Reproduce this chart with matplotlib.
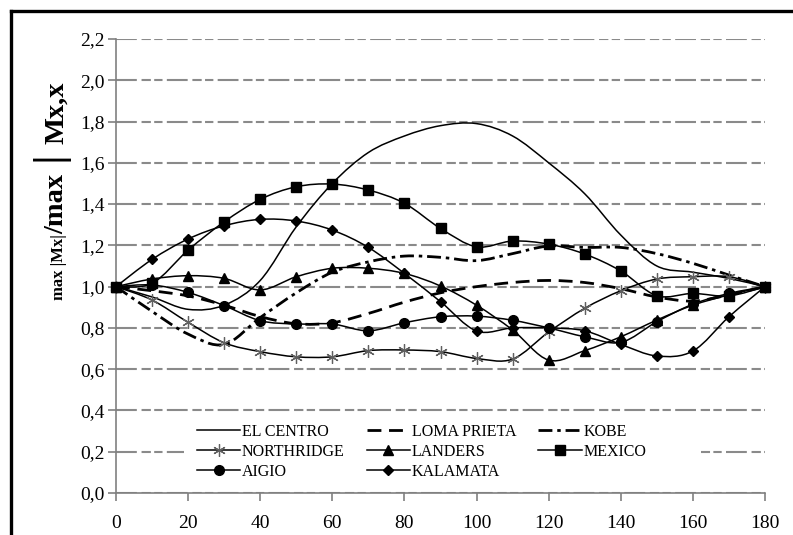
import numpy as np
import matplotlib
matplotlib.use('Agg')
import matplotlib.pyplot as plt
from matplotlib.path import Path
from matplotlib.patches import PathPatch, Rectangle
from matplotlib.lines import Line2D

plt.rcParams['font.family'] = ['Liberation Serif', 'DejaVu Serif']
plt.rcParams['lines.scale_dashes'] = False

# angle (deg)
angle = [0, 10, 20, 30, 40, 50, 60, 70, 80, 90, 100, 110, 120, 130, 140, 150, 160, 170, 180]

el_centro = [1.0, 0.95, 0.89, 0.91, 1.03, 1.29, 1.50, 1.65, 1.73, 1.78, 1.79, 1.73, 1.60, 1.45,
             1.25, 1.10, 1.07, 1.04, 1.0]
loma_prieta = [1.0, 0.98, 0.955, 0.91, 0.855, 0.82, 0.825, 0.87, 0.925, 0.97, 1.0, 1.02, 1.03,
               1.02, 0.99, 0.95, 0.93, 0.96, 1.0]
kobe = [1.0, 0.88, 0.77, 0.72, 0.85, 0.97, 1.07, 1.12, 1.148, 1.142, 1.126, 1.16, 1.197, 1.19,
        1.19, 1.16, 1.113, 1.056, 1.0]
northridge = [1.0, 0.935, 0.827, 0.728, 0.685, 0.66, 0.66, 0.69, 0.693, 0.685, 0.652, 0.649,
              0.78, 0.895, 0.98, 1.037, 1.048, 1.048, 1.0]
landers = [1.0, 1.037, 1.053, 1.04, 0.984, 1.048, 1.089, 1.089, 1.064, 1.003, 0.91, 0.79, 0.644,
           0.69, 0.757, 0.838, 0.91, 0.96, 1.0]
mexico = [1.0, 1.016, 1.177, 1.314, 1.423, 1.484, 1.497, 1.468, 1.404, 1.282, 1.193, 1.221, 1.206,
          1.158, 1.076, 0.956, 0.967, 0.955, 1.0]
aigio = [1.0, 1.008, 0.972, 0.908, 0.835, 0.819, 0.819, 0.786, 0.825, 0.854, 0.857, 0.837, 0.80,
         0.757, 0.73, 0.83, 0.915, 0.967, 1.0]
kalamata = [1.0, 1.132, 1.231, 1.295, 1.326, 1.318, 1.274, 1.19, 1.064, 0.927, 0.785, 0.80, 0.80,
            0.786, 0.72, 0.664, 0.688, 0.854, 1.0]

names = ['EL CENTRO', 'LOMA PRIETA', 'KOBE', 'NORTHRIDGE', 'LANDERS', 'MEXICO', 'AIGIO', 'KALAMATA']
series = [el_centro, loma_prieta, kobe, northridge, landers, mexico, aigio, kalamata]

yticks = [0.0, 0.2, 0.4, 0.6, 0.8, 1.0, 1.2, 1.4, 1.6, 1.8, 2.0, 2.2]
xticks = [0, 20, 40, 60, 80, 100, 120, 140, 160, 180]

# styles: (linestyle, linewidth, marker, markersize)
styles = [
    ('-', 1.1, None, 0),
    ((0, (10, 5.5)), 2.0, None, 0),
    ((0, (10, 3.5, 2.5, 3.5)), 2.0, None, 0),
    ('-', 1.1, (6, 2, 0), 9),
    ('-', 1.1, '^', 7),
    ('-', 1.1, 's', 7),
    ('-', 1.1, 'o', 7),
    ('-', 1.1, 'D', 5.5),
]


def smooth_path(x, y):
    # excel-like smoothed line: catmull-rom as cubic bezier
    p = np.column_stack([x, y]).astype(float)
    n = len(p)
    verts = [p[0]]
    codes = [Path.MOVETO]
    for i in range(n - 1):
        p0 = p[max(i - 1, 0)]
        p1 = p[i]
        p2 = p[i + 1]
        p3 = p[min(i + 2, n - 1)]
        verts += [p1 + (p2 - p0) / 6, p2 - (p3 - p1) / 6, p2]
        codes += [Path.CURVE4] * 3
    return Path(verts, codes)


fig = plt.figure(figsize=(7.93, 5.35), dpi=100)
ax = fig.add_axes([116 / 793, 1 - 493 / 535, 649 / 793, 454 / 535])

handles = []
for name, vals, (ls, lw, mk, ms) in zip(names, series, styles):
    ax.add_patch(PathPatch(smooth_path(angle, vals), fill=False, ec='black', lw=lw, ls=ls,
                           zorder=3, capstyle='butt'))
    if mk is not None:
        if mk == (6, 2, 0):
            ax.plot(angle, vals, ls='none', marker=mk, ms=ms, mec='#606060', mew=0.9,
                    zorder=4, clip_on=False)
            h = Line2D([], [], color='black', lw=lw, marker=mk, ms=ms, mec='#606060', mew=0.9)
        else:
            ax.plot(angle, vals, ls='none', marker=mk, ms=ms, color='black', zorder=4,
                    clip_on=False)
            h = Line2D([], [], color='black', lw=lw, marker=mk, ms=ms)
    else:
        h = Line2D([], [], color='black', lw=lw, ls=ls)
    handles.append(h)

ax.set_xlim(0, 180)
ax.set_ylim(0, 2.2)
ax.set_xticks(xticks)
ax.set_yticks(yticks)
ax.set_yticklabels([f'{v:.1f}'.replace('.', ',') for v in yticks])
ax.tick_params(axis='both', labelsize=14, color='#808080', width=1.2, direction='out')
ax.tick_params(axis='x', length=6, pad=10)
ax.tick_params(axis='y', length=6, pad=2)

ax.set_axisbelow(True)
ax.yaxis.grid(True, color='#8a8a8a', lw=1.5, ls=(0, (15, 3.4, 6.7, 2.4, 6, 3.1)))
for s in ['top', 'right']:
    ax.spines[s].set_visible(False)
for s in ['left', 'bottom']:
    ax.spines[s].set_color('#808080')
    ax.spines[s].set_linewidth(1.2)

# white box behind the legend
ax.add_patch(Rectangle(((184 - 116) / 649, (493 - 486) / 454), (701 - 184) / 649, 66 / 454,
                       transform=ax.transAxes, fc='white', ec='none', zorder=1.5))
# legend fills column by column, reorder so rows read like the original
order = [0, 3, 6, 1, 4, 7, 2, 5]
leg = ax.legend([handles[i] for i in order], [names[i] for i in order], ncol=3, frameon=False,
                fontsize=11.5, loc='upper left',
                bbox_to_anchor=((197 - 116) / 649, (493 - 424) / 454), borderpad=0,
                borderaxespad=0, handlelength=2.7, handletextpad=0.1, columnspacing=1.4,
                labelspacing=0.25, numpoints=1)

# y label in pieces of different size
fig.canvas.draw()
r = fig.canvas.get_renderer()
parts = [('max |Mx|', 12, 'bold'), ('/max', 20.5, 'bold'), (' | ', 30, 'bold'),
         ('Mx,x', 20.5, 'bold')]
ypos = 1 - 300 / 535
for txt, fs, fw in parts:
    t = fig.text(63 / 793, ypos, txt, rotation=90, rotation_mode='anchor', ha='left',
                 va='baseline', fontsize=fs, fontweight=fw)
    bb = t.get_window_extent(r)
    ypos += bb.height / fig.bbox.height

# frame border on top and left
fig.add_artist(Line2D([11 / 793, 1], [1 - 11 / 535, 1 - 11 / 535], color='black', lw=2.4,
                      transform=fig.transFigure))
fig.add_artist(Line2D([11 / 793, 11 / 793], [0, 1 - 11 / 535], color='black', lw=2.4,
                      transform=fig.transFigure))

fig.savefig('out.png', dpi=100)
